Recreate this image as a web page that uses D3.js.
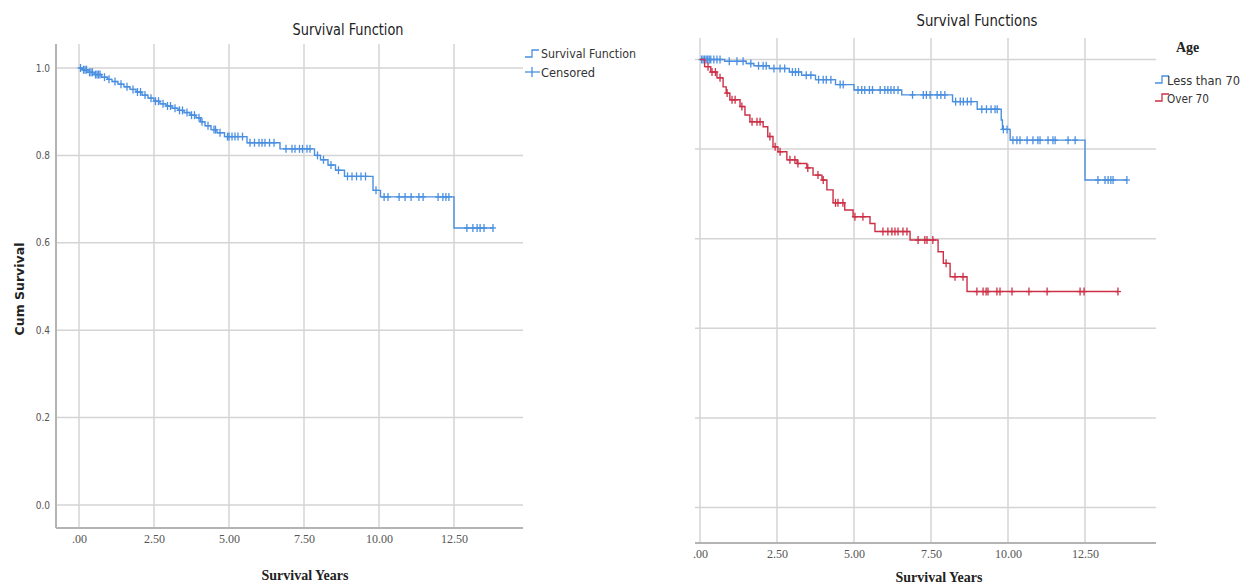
<!DOCTYPE html>
<html lang="en">
<head>
<meta charset="utf-8">
<script src="https://d3js.org/d3.v7.min.js"></script>
<style>
body { margin: 0; background: #fff; }
svg text { fill: #333; }
.title { font-family: "DejaVu Sans Condensed", "Liberation Sans Narrow", sans-serif; font-size: 16px; fill: #222; }
.ytick { font-family: "DejaVu Sans Condensed", "Liberation Sans Narrow", sans-serif; font-size: 10px; fill: #555; }
.xtick text { font-family: "Liberation Serif", serif; font-size: 12px; fill: #555; }
.xtitle { font-family: "Liberation Serif", serif; font-weight: bold; font-size: 14px; fill: #222; }
.ytitle { font-family: "DejaVu Sans", sans-serif; font-weight: bold; font-size: 12.5px; fill: #222; }
.legend { font-family: "DejaVu Sans Condensed", "Liberation Sans Narrow", sans-serif; font-size: 13px; fill: #333; }
.grid { stroke: #d4d4d4; stroke-width: 1.5; }
.axisline { stroke: #b4b4b4; stroke-width: 2; }
</style>
</head>
<body>
<svg width="1248" height="584"></svg>
<script>

// ---- data ----
var xTicks = [0, 2.5, 5, 7.5, 10, 12.5];
var yTicks = [0, 0.2, 0.4, 0.6, 0.8, 1.0];

// overall survival (left panel)
var allTimes = [0, 0.1, 0.3, 0.5, 0.75, 0.95, 1.1, 1.3, 1.5, 1.7, 1.9, 2.1, 2.3, 2.5, 2.7, 2.9, 3.1, 3.3, 3.5, 3.7, 3.9,
  4.05, 4.2, 4.4, 4.6, 4.85, 5.6, 6.7, 7.85, 8.05, 8.3, 8.55, 8.85, 9.8, 10.05, 12.5, 13.8];
var allSurv = [1.0, 0.996, 0.99, 0.985, 0.979, 0.974, 0.969, 0.963, 0.957, 0.951, 0.945, 0.938, 0.931, 0.924, 0.918, 0.913,
  0.908, 0.903, 0.898, 0.892, 0.886, 0.877, 0.868, 0.859, 0.852, 0.843, 0.829, 0.815, 0.80, 0.79, 0.778, 0.766, 0.752,
  0.72, 0.705, 0.634, 0.634];
var allCensored = [0.05, 0.15, 0.2, 0.25, 0.35, 0.4, 0.45, 0.55, 0.6, 0.65, 0.7, 0.85, 1.0, 1.2, 1.4, 1.6, 1.8, 1.95,
  2.05, 2.2, 2.4, 2.55, 2.65, 2.8, 2.95, 3.05, 3.2, 3.35, 3.45, 3.6, 3.75, 3.85, 4.0, 4.1, 4.3, 4.5, 4.55, 4.7, 4.95,
  5.0, 5.1, 5.2, 5.3, 5.45, 5.7, 5.85, 6.0, 6.1, 6.2, 6.35, 6.5, 6.9, 7.1, 7.2, 7.35, 7.45, 7.6, 7.7, 7.95, 8.15, 8.4,
  8.65, 8.95, 9.1, 9.25, 9.4, 9.55, 9.9, 10.17, 10.3, 10.67, 10.87, 11.07, 11.33, 11.47, 11.97, 12.13, 12.23, 12.33,
  12.93, 13.13, 13.27, 13.37, 13.5, 13.8];

// age groups (right panel)
var youngTimes = [0, 0.8, 1.5, 1.75, 2.25, 2.9, 3.3, 3.75, 4.4, 5.0, 6.55, 8.2, 9.0, 9.78, 9.82, 10.07, 12.5, 13.86];
var youngSurv = [1.0, 0.996, 0.991, 0.986, 0.98, 0.972, 0.965, 0.955, 0.944, 0.932, 0.921, 0.906, 0.889, 0.865, 0.844,
  0.82, 0.731, 0.731];
var youngCensored = [0.05, 0.1, 0.15, 0.2, 0.25, 0.3, 0.35, 0.45, 0.55, 0.65, 0.95, 1.2, 1.4, 1.65, 1.9, 2.05, 2.15,
  2.4, 2.6, 2.75, 3.0, 3.1, 3.2, 3.45, 3.6, 3.85, 4.0, 4.1, 4.25, 4.55, 4.65, 5.13, 5.25, 5.35, 5.5, 5.6, 5.85, 6.0,
  6.1, 6.2, 6.3, 6.43, 6.9, 7.25, 7.35, 7.47, 7.7, 7.82, 7.95, 8.3, 8.45, 8.55, 8.68, 8.8, 9.15, 9.3, 9.45, 9.58, 9.65,
  9.85, 9.97, 10.16, 10.29, 10.39, 10.62, 10.81, 10.97, 11.04, 11.3, 11.46, 11.53, 11.95, 12.18, 12.92, 13.15, 13.25,
  13.34, 13.41, 13.86];

var oldTimes = [0, 0.15, 0.35, 0.55, 0.75, 0.85, 0.97, 1.3, 1.46, 1.62, 2.05, 2.2, 2.37, 2.53, 2.82, 3.15, 3.47, 3.67,
  3.96, 4.12, 4.32, 4.7, 4.97, 5.52, 5.68, 6.82, 7.73, 7.9, 8.12, 8.67, 13.57];
var oldSurv = [1.0, 0.984, 0.972, 0.959, 0.939, 0.925, 0.91, 0.895, 0.876, 0.861, 0.85, 0.828, 0.805, 0.794, 0.776,
  0.768, 0.758, 0.742, 0.731, 0.709, 0.68, 0.664, 0.649, 0.634, 0.616, 0.597, 0.571, 0.545, 0.515, 0.482, 0.482];
var oldCensored = [0.26, 0.39, 0.5, 0.65, 0.88, 1.04, 1.14, 1.36, 1.69, 1.85, 1.95, 2.27, 2.44, 2.6, 2.92, 3.08, 3.18,
  3.5, 3.83, 4.0, 4.4, 4.48, 4.64, 5.03, 5.29, 5.94, 6.1, 6.23, 6.33, 6.43, 6.59, 6.72, 7.08, 7.3, 7.37, 7.56, 7.99,
  8.28, 8.54, 8.99, 9.19, 9.29, 9.35, 9.64, 9.74, 10.13, 10.68, 11.27, 12.34, 12.47, 13.57];

var blue = "#4a8fe0", red = "#cc2f46";

var svg = d3.select("svg");

function survAt(times, surv, t) {
  var i = d3.bisectRight(times, t) - 1;
  return surv[Math.max(0, i)];
}

function panel(opt) {
  var x = d3.scaleLinear().domain([0, 12.5]).range(opt.xr),
      y = d3.scaleLinear().domain([0, 1]).range(opt.yr);
  var g = svg.append("g");

  // grid
  g.selectAll(".hg").data(yTicks).enter().append("line")
      .attr("class", "grid")
      .attr("x1", opt.left).attr("x2", opt.right)
      .attr("y1", function(d) { return y(d); }).attr("y2", function(d) { return y(d); });
  g.selectAll(".vg").data(xTicks).enter().append("line")
      .attr("class", "grid")
      .attr("x1", function(d) { return x(d); }).attr("x2", function(d) { return x(d); })
      .attr("y1", opt.top).attr("y2", opt.bottom);

  // axis lines
  g.append("line").attr("class", "axisline")
      .attr("x1", opt.left).attr("x2", opt.right).attr("y1", opt.bottom).attr("y2", opt.bottom);
  if (opt.yaxis) {
    g.append("line").attr("class", "axisline")
        .attr("x1", opt.left).attr("x2", opt.left).attr("y1", opt.top).attr("y2", opt.bottom);
    g.selectAll(".ytick").data(yTicks).enter().append("text")
        .attr("class", "ytick")
        .attr("x", opt.left - 6).attr("y", function(d) { return y(d); })
        .attr("dy", "0.35em").attr("text-anchor", "end")
        .text(d3.format(".1f"));
  }

  var xa = g.append("g").attr("class", "xtick")
      .attr("transform", "translate(0," + (opt.bottom + 3) + ")")
      .call(d3.axisBottom(x).tickValues(xTicks).tickSize(0)
        .tickFormat(function(d) { return d === 0 ? ".00" : d3.format(".2f")(d); }));
  xa.select(".domain").remove();

  // curves
  var line = d3.line().curve(d3.curveStepAfter)
      .x(function(d) { return x(d[0]); }).y(function(d) { return y(d[1]); });
  opt.series.forEach(function(s) {
    g.append("path")
        .datum(d3.zip(s.times, s.surv))
        .attr("fill", "none").attr("stroke", s.color).attr("stroke-width", 1.4)
        .attr("d", line);
    var c = g.append("g").attr("stroke", s.color).attr("stroke-width", 1.3);
    c.selectAll("line.v").data(s.censored).enter().append("line")
        .attr("x1", function(d) { return x(d); }).attr("x2", function(d) { return x(d); })
        .attr("y1", function(d) { return y(survAt(s.times, s.surv, d)) - 4; })
        .attr("y2", function(d) { return y(survAt(s.times, s.surv, d)) + 4; });
    c.selectAll("line.h").data(s.censored).enter().append("line")
        .attr("x1", function(d) { return x(d) - 3; }).attr("x2", function(d) { return x(d) + 3; })
        .attr("y1", function(d) { return y(survAt(s.times, s.surv, d)); })
        .attr("y2", function(d) { return y(survAt(s.times, s.surv, d)); });
  });

  g.append("text").attr("class", "title")
      .attr("x", opt.titleX).attr("y", opt.titleY).attr("text-anchor", "middle")
      .attr("textLength", opt.titleW).attr("lengthAdjust", "spacingAndGlyphs")
      .text(opt.title);
  g.append("text").attr("class", "xtitle")
      .attr("x", opt.xtitleX).attr("y", opt.xtitleY).attr("text-anchor", "middle")
      .text("Survival Years");
}

function stepIcon(x0, y0, color) {
  svg.append("path")
      .attr("d", "M" + x0 + "," + (y0 + 3) + "h7v-7h7")
      .attr("fill", "none").attr("stroke", color).attr("stroke-width", 1.3);
}

panel({
  xr: [79, 454], yr: [505, 68], left: 56, right: 523, top: 44, bottom: 528,
  yaxis: true, title: "Survival Function", titleX: 348, titleY: 35, titleW: 111,
  xtitleX: 305, xtitleY: 580,
  series: [{times: allTimes, surv: allSurv, censored: allCensored, color: blue}]
});

panel({
  xr: [700, 1085], yr: [507.5, 59.5], left: 695, right: 1156, top: 38, bottom: 543,
  yaxis: false, title: "Survival Functions", titleX: 977, titleY: 26, titleW: 121,
  xtitleX: 939, xtitleY: 582,
  series: [
    {times: youngTimes, surv: youngSurv, censored: youngCensored, color: blue},
    {times: oldTimes, surv: oldSurv, censored: oldCensored, color: red}
  ]
});

// y title (left)
svg.append("text").attr("class", "ytitle")
    .attr("transform", "translate(24,289) rotate(-90)")
    .attr("text-anchor", "middle")
    .text("Cum Survival");

// legend left
stepIcon(525, 54, blue);
svg.append("text").attr("class", "legend").attr("x", 541).attr("y", 58)
    .attr("textLength", 95).attr("lengthAdjust", "spacingAndGlyphs").text("Survival Function");
svg.append("line").attr("x1", 525).attr("x2", 540).attr("y1", 72).attr("y2", 72).attr("stroke", blue).attr("stroke-width", 1.3);
svg.append("line").attr("x1", 532).attr("x2", 532).attr("y1", 67).attr("y2", 77).attr("stroke", blue).attr("stroke-width", 1.3);
svg.append("text").attr("class", "legend").attr("x", 541).attr("y", 77)
    .attr("textLength", 54).attr("lengthAdjust", "spacingAndGlyphs").text("Censored");

// legend right
svg.append("text").attr("class", "xtitle").attr("x", 1176).attr("y", 52).text("Age");
stepIcon(1155, 80, blue);
svg.append("text").attr("class", "legend").attr("x", 1167).attr("y", 85)
    .attr("textLength", 73).attr("lengthAdjust", "spacingAndGlyphs").text("Less than 70");
stepIcon(1155, 98, red);
svg.append("text").attr("class", "legend").attr("x", 1167).attr("y", 103)
    .attr("textLength", 42).attr("lengthAdjust", "spacingAndGlyphs").text("Over 70");

</script>
</body>
</html>
